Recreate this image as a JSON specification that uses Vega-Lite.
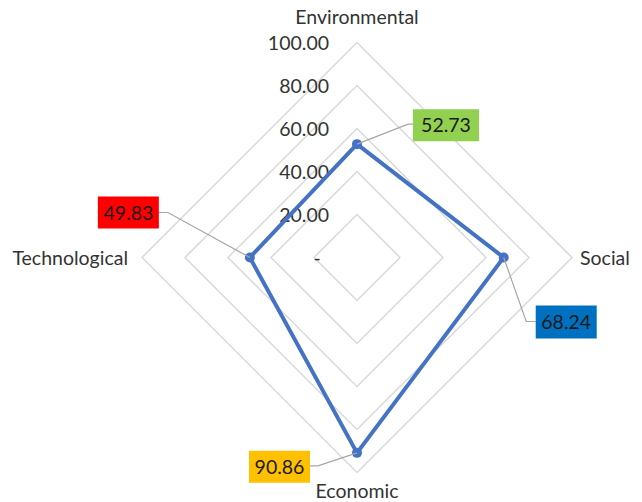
{
  "$schema": "https://vega.github.io/schema/vega-lite/v6.json",
  "width": 430,
  "height": 430,
  "autosize": {"type": "none"},
  "padding": {"left": 142, "top": 42.5, "right": 70, "bottom": 29.5},
  "background": "white",
  "config": {"view": {"stroke": null}, "font": "Lato"},
  "datasets": {
    "series": [
      {"axis": "Environmental", "k": 1, "value": 52.73, "x": 0, "y": 52.73},
      {"axis": "Social", "k": 2, "value": 68.24, "x": 68.24, "y": 0},
      {"axis": "Economic", "k": 3, "value": 90.86, "x": 0, "y": -90.86},
      {"axis": "Technological", "k": 4, "value": 49.83, "x": -49.83, "y": 0}
    ],
    "grid": [
      {"level": 20, "k": 1, "x": 0, "y": 20}, {"level": 20, "k": 2, "x": 20, "y": 0}, {"level": 20, "k": 3, "x": 0, "y": -20}, {"level": 20, "k": 4, "x": -20, "y": 0},
      {"level": 40, "k": 1, "x": 0, "y": 40}, {"level": 40, "k": 2, "x": 40, "y": 0}, {"level": 40, "k": 3, "x": 0, "y": -40}, {"level": 40, "k": 4, "x": -40, "y": 0},
      {"level": 60, "k": 1, "x": 0, "y": 60}, {"level": 60, "k": 2, "x": 60, "y": 0}, {"level": 60, "k": 3, "x": 0, "y": -60}, {"level": 60, "k": 4, "x": -60, "y": 0},
      {"level": 80, "k": 1, "x": 0, "y": 80}, {"level": 80, "k": 2, "x": 80, "y": 0}, {"level": 80, "k": 3, "x": 0, "y": -80}, {"level": 80, "k": 4, "x": -80, "y": 0},
      {"level": 100, "k": 1, "x": 0, "y": 100}, {"level": 100, "k": 2, "x": 100, "y": 0}, {"level": 100, "k": 3, "x": 0, "y": -100}, {"level": 100, "k": 4, "x": -100, "y": 0}
    ],
    "ticks": [
      {"label": "-", "x": 0, "y": 0},
      {"label": "20.00", "x": 0, "y": 20},
      {"label": "40.00", "x": 0, "y": 40},
      {"label": "60.00", "x": 0, "y": 60},
      {"label": "80.00", "x": 0, "y": 80},
      {"label": "100.00", "x": 0, "y": 100}
    ],
    "axes": [
      {"axis": "Environmental", "x": 0, "y": 100},
      {"axis": "Social", "x": 100, "y": 0},
      {"axis": "Economic", "x": 0, "y": -100},
      {"axis": "Technological", "x": -100, "y": 0}
    ]
  },
  "encoding": {
    "x": {"field": "x", "type": "quantitative", "scale": {"domain": [-100, 100]}, "axis": null},
    "y": {"field": "y", "type": "quantitative", "scale": {"domain": [-100, 100]}, "axis": null}
  },
  "layer": [
    {
      "data": {"name": "grid"},
      "mark": {"type": "line", "interpolate": "linear-closed", "stroke": "#D9D9D9", "strokeWidth": 1.5},
      "encoding": {"detail": {"field": "level", "type": "nominal"}, "order": {"field": "k", "type": "quantitative"}}
    },
    {
      "data": {"name": "ticks"},
      "transform": [{"filter": "datum.y > 0"}],
      "mark": {"type": "text", "align": "right", "baseline": "middle", "dx": -28, "dy": 1, "fontSize": 19.5, "fill": "#333333"},
      "encoding": {"text": {"field": "label", "type": "nominal"}}
    },
    {
      "data": {"name": "ticks"},
      "transform": [{"filter": "datum.y == 0"}],
      "mark": {"type": "text", "align": "center", "baseline": "middle", "dx": -40, "dy": 1, "fontSize": 19.5, "fill": "#333333"},
      "encoding": {"text": {"field": "label", "type": "nominal"}}
    },
    {
      "data": {"name": "series"},
      "mark": {"type": "line", "interpolate": "linear-closed", "stroke": "#4472C4", "strokeWidth": 4},
      "encoding": {"order": {"field": "k", "type": "quantitative"}}
    },
    {
      "data": {"name": "series"},
      "mark": {"type": "point", "shape": "circle", "filled": true, "size": 100, "fill": "#4472C4", "opacity": 1}
    },
    {
      "data": {"name": "series"},
      "transform": [{"filter": "datum.axis == 'Environmental'"}],
      "layer": [
        {"mark": {"type": "point", "shape": "M0,0L51,-20H56", "size": 4, "filled": false, "stroke": "#A6A6A6", "strokeWidth": 1.2, "opacity": 1}},
        {"mark": {"type": "point", "shape": "M56,-35H122V-3H56Z", "size": 4, "filled": true, "fill": "#92D050", "strokeWidth": 0, "opacity": 1}},
        {"mark": {"type": "text", "align": "center", "baseline": "middle", "dx": 89, "dy": -18, "fontSize": 19.5, "fill": "#1A1A1A"}, "encoding": {"text": {"field": "value", "type": "quantitative", "format": ".2f"}}}
      ]
    },
    {
      "data": {"name": "series"},
      "transform": [{"filter": "datum.axis == 'Social'"}],
      "layer": [
        {"mark": {"type": "point", "shape": "M0,0L22.5,64H32", "size": 4, "filled": false, "stroke": "#A6A6A6", "strokeWidth": 1.2, "opacity": 1}},
        {"mark": {"type": "point", "shape": "M32,48H93V81H32Z", "size": 4, "filled": true, "fill": "#0070C0", "strokeWidth": 0, "opacity": 1}},
        {"mark": {"type": "text", "align": "center", "baseline": "middle", "dx": 62.5, "dy": 65.5, "fontSize": 19.5, "fill": "#1A1A1A"}, "encoding": {"text": {"field": "value", "type": "quantitative", "format": ".2f"}}}
      ]
    },
    {
      "data": {"name": "series"},
      "transform": [{"filter": "datum.axis == 'Economic'"}],
      "layer": [
        {"mark": {"type": "point", "shape": "M0,0L-39,13H-47", "size": 4, "filled": false, "stroke": "#A6A6A6", "strokeWidth": 1.2, "opacity": 1}},
        {"mark": {"type": "point", "shape": "M-108,-2H-47V30H-108Z", "size": 4, "filled": true, "fill": "#FFC000", "strokeWidth": 0, "opacity": 1}},
        {"mark": {"type": "text", "align": "center", "baseline": "middle", "dx": -77.5, "dy": 15, "fontSize": 19.5, "fill": "#1A1A1A"}, "encoding": {"text": {"field": "value", "type": "quantitative", "format": ".2f"}}}
      ]
    },
    {
      "data": {"name": "series"},
      "transform": [{"filter": "datum.axis == 'Technological'"}],
      "layer": [
        {"mark": {"type": "point", "shape": "M0,0L-82,-45H-91", "size": 4, "filled": false, "stroke": "#A6A6A6", "strokeWidth": 1.2, "opacity": 1}},
        {"mark": {"type": "point", "shape": "M-152,-61H-91V-29H-152Z", "size": 4, "filled": true, "fill": "#FF0000", "strokeWidth": 0, "opacity": 1}},
        {"mark": {"type": "text", "align": "center", "baseline": "middle", "dx": -121.5, "dy": -44, "fontSize": 19.5, "fill": "#1A1A1A"}, "encoding": {"text": {"field": "value", "type": "quantitative", "format": ".2f"}}}
      ]
    },
    {
      "data": {"name": "axes"},
      "transform": [{"filter": "datum.axis == 'Environmental'"}],
      "mark": {"type": "text", "align": "center", "baseline": "middle", "dy": -24.5, "fontSize": 19.5, "fill": "#333333"},
      "encoding": {"text": {"field": "axis", "type": "nominal"}}
    },
    {
      "data": {"name": "axes"},
      "transform": [{"filter": "datum.axis == 'Social'"}],
      "mark": {"type": "text", "align": "left", "baseline": "middle", "dx": 8, "dy": 1, "fontSize": 19.5, "fill": "#333333"},
      "encoding": {"text": {"field": "axis", "type": "nominal"}}
    },
    {
      "data": {"name": "axes"},
      "transform": [{"filter": "datum.axis == 'Economic'"}],
      "mark": {"type": "text", "align": "center", "baseline": "middle", "dy": 19.5, "fontSize": 19.5, "fill": "#333333"},
      "encoding": {"text": {"field": "axis", "type": "nominal"}}
    },
    {
      "data": {"name": "axes"},
      "transform": [{"filter": "datum.axis == 'Technological'"}],
      "mark": {"type": "text", "align": "right", "baseline": "middle", "dx": -14, "dy": 1, "fontSize": 19.5, "fill": "#333333"},
      "encoding": {"text": {"field": "axis", "type": "nominal"}}
    }
  ]
}
